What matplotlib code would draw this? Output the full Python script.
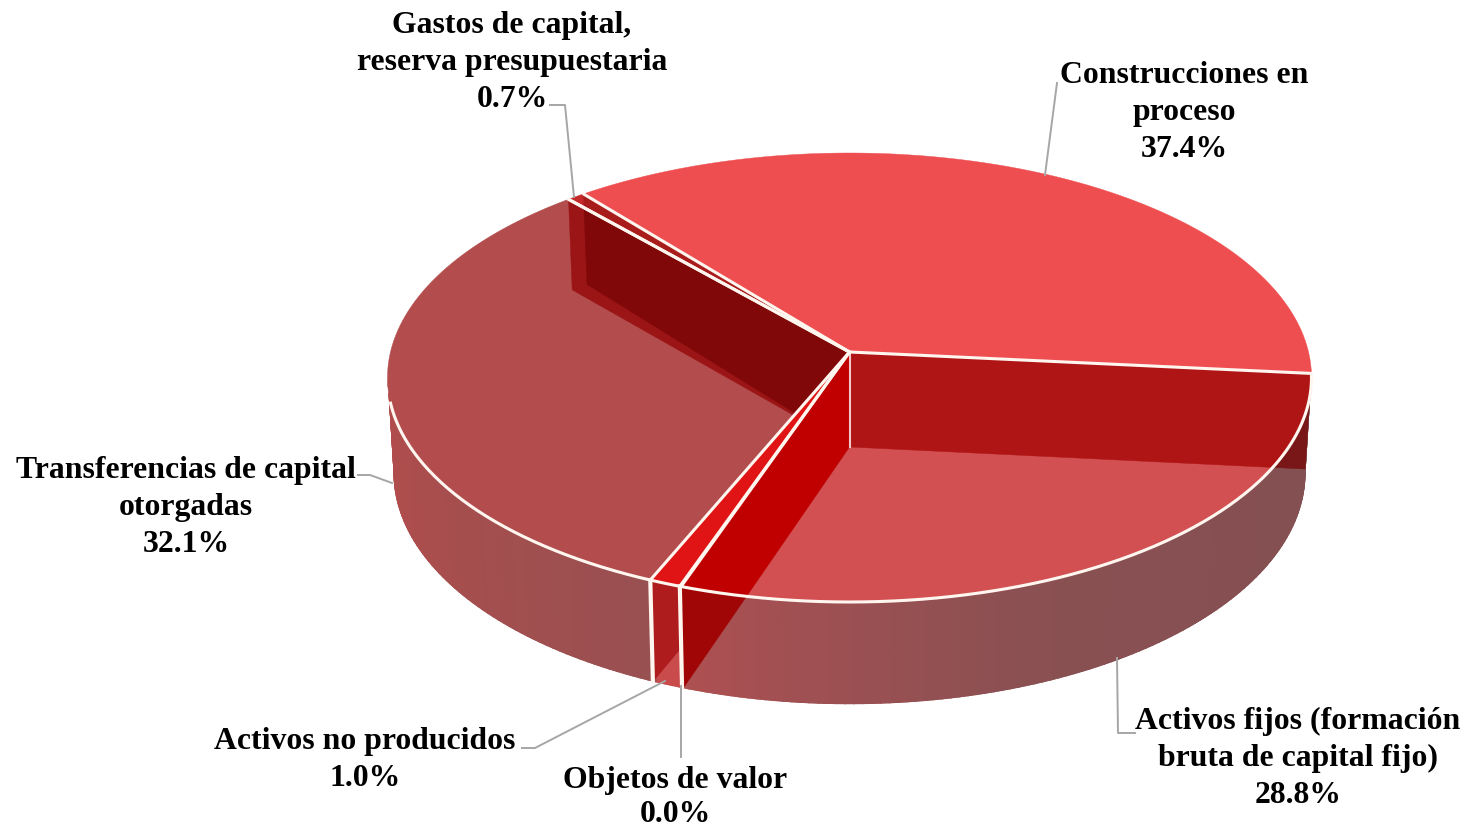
import numpy as np
import matplotlib
matplotlib.use("Agg")
import matplotlib.pyplot as plt
from matplotlib.patches import Polygon
from matplotlib.colors import to_rgb

# ---- data ----
categories = ["Construcciones en\nproceso",
              "Activos fijos (formación\nbruta de capital fijo)",
              "Objetos de valor",
              "Activos no producidos",
              "Transferencias de capital\notorgadas",
              "Gastos de capital,\nreserva presupuestaria"]
values = [37.4, 28.8, 0.04, 1.0, 32.1, 0.7]
top_colors = ["#EF4E50", "#D25052", "#C00000", "#E01414", "#B34D4D", "#C42A2A"]

# ---- projection of the pie ----
START = -39.1
CX, CY_TOP, CY_BOT = 849.5, 352, 447
A_TOP, B_TOP, K_TOP = 459, 221.6, 0.1136
A_BOT, B_BOT, K_BOT = 453, 228, 0.1136


def top_pt(deg):
    t = np.radians(deg)
    u, v = np.sin(t), -np.cos(t)
    s = 1 / (1 - K_TOP * v)
    return np.column_stack([CX + A_TOP * u * s, CY_TOP + B_TOP * v * s])


def bot_pt(deg):
    t = np.radians(deg)
    u, v = np.sin(t), -np.cos(t)
    s = 1 / (1 - K_BOT * v)
    return np.column_stack([CX + A_BOT * u * s, CY_BOT + B_BOT * v * s])


def arc(f, a, b, n=None):
    n = n or max(2, int(abs(b - a) * 2) + 2)
    return f(np.linspace(a, b, n))


c_top = np.array([[CX, CY_TOP]])
c_bot = np.array([[CX, CY_BOT]])

edges = START + np.concatenate([[0], np.cumsum(values)]) / sum(values) * 360
T_RIGHT, T_LEFT = 96.5, 263.5  # visible side band, degrees

fig = plt.figure(figsize=(14.68, 8.30), dpi=100, facecolor="white")
ax = fig.add_axes([0, 0, 1, 1])
ax.set_xlim(0, 1468)
ax.set_ylim(830, 0)
ax.axis("off")


def poly(pts, color, z, clip=None, lw=0.3):
    p = Polygon(pts, closed=True, fc=color, ec=color, lw=lw, zorder=z)
    ax.add_patch(p)
    if clip is not None:
        p.set_clip_path(clip)
    return p


def clip_patch(pts):
    p = Polygon(pts, closed=True, transform=ax.transData, fc="none", ec="none")
    ax.add_patch(p)
    return p


def mix(stops, x):
    xs = [s[0] for s in stops]
    cs = np.array([to_rgb(s[1]) for s in stops])
    return tuple(np.interp(x, xs, cs[:, i]) for i in range(3))


# ---- side band ----
fijos_stops = [(-0.45, "#B55052"), (-0.1, "#A05052"), (0.35, "#8A5052"), (1.0, "#845052")]
transf_stops = [(-1.0, "#B24C4C"), (-0.8, "#A54E4E"), (-0.3, "#965052")]
e = edges
side_outline = np.vstack([arc(top_pt, T_RIGHT, T_LEFT, 300), arc(bot_pt, T_LEFT, T_RIGHT, 300)])
side_clip = clip_patch(side_outline)
STEP = 1.0
for d0 in np.arange(T_RIGHT, T_LEFT, STEP):
    d1 = min(d0 + STEP, T_LEFT)
    mid = (d0 + d1) / 2
    u = np.sin(np.radians(mid))
    if mid < e[2]:
        col = mix(fijos_stops, u)
    elif mid < e[3]:
        col = "#B04F50"
    elif mid < e[4]:
        col = "#C94B4B"
    else:
        col = mix(transf_stops, u)
    pts = np.vstack([arc(top_pt, d0, d1, 3), arc(bot_pt, d1, d0, 3)])
    poly(pts, col, 1, side_clip, lw=1.2)

# ---- top faces ----
wedge_pts = []
for i in range(len(values)):
    pts = np.vstack([c_top, arc(top_pt, edges[i], edges[i + 1])])
    wedge_pts.append(pts)
    if values[i] >= 0.1:
        poly(pts, top_colors[i], 2)


def wall(deg):
    return np.vstack([c_top, top_pt(deg), bot_pt(deg), c_bot])


fijos_clip = clip_patch(wedge_pts[1])
transf_clip = clip_patch(wedge_pts[4])
gastos_clip = clip_patch(wedge_pts[5])

# ---- inner walls seen through the faces ----
poly(wall(edges[1]), "#B01516", 3, fijos_clip)
poly(wall(edges[1]), "#781618", 3, side_clip)
poly(wall(edges[2]), "#C00000", 3, fijos_clip)
poly(wall(edges[2]), "#A00606", 3.1, side_clip)
# wall of the small wedge over its own side only
side_small = np.vstack([arc(top_pt, edges[3], edges[4], 5), arc(bot_pt, edges[4], edges[3], 5)])
small_clip = clip_patch(side_small)
poly(wall(edges[4]), "#AE1C1E", 3.3, small_clip)

poly(wall(edges[5]), "#9C1516", 3, transf_clip)
poly(wall(edges[6]), "#800808", 3.1, transf_clip)
poly(wall(edges[6]), "#A81C1C", 3, gastos_clip)

# ---- white lines ----
WHITE = "#FFF6F0"
for i in range(5):
    p = top_pt(edges[i + 1])[0]
    ax.plot([CX, p[0]], [CY_TOP, p[1]], color=WHITE, lw=2.2, zorder=5, solid_capstyle="round")
for d in (edges[0], edges[5]):
    p = top_pt(d)[0]
    ax.plot([CX, p[0]], [CY_TOP, p[1]], color=WHITE, lw=2.2, zorder=5, solid_capstyle="round")
rim = arc(top_pt, 96, 257, 300)
ax.plot(rim[:, 0], rim[:, 1], color=WHITE, lw=2.2, zorder=5)
for d in (edges[3], edges[4]):
    p, q = top_pt(d)[0], bot_pt(d)[0]
    ax.plot([p[0], q[0]], [p[1], q[1]], color=WHITE, lw=3, zorder=5)
ax.plot([CX, CX], [CY_TOP, CY_BOT], color="#F0C8C8", lw=1.5, zorder=4)

# ---- labels ----
FONT = "Liberation Serif"
labels = [
    (categories[0], values[0], 1184, 75.5, 37.0),
    (categories[1], values[1], 1298, 721.5, 37.0),
    (categories[2], values[2], 675, 780.5, 33.5),
    (categories[3], values[3], 365, 741.5, 37.0),
    (categories[4], values[4], 186, 470.5, 37.0),
    (categories[5], values[5], 512, 25.5, 37.0),
]
for text, val, x, y, line_h in labels:
    lines = text.split("\n") + [f"{val:.1f}%"]
    for j, line in enumerate(lines):
        ax.text(x, y + j * line_h, line, ha="center", va="center", fontsize=22.85,
                fontweight="bold", family=FONT, color="black", zorder=8)

# ---- leader lines ----
leaders = [
    [(1057, 83), (1045, 175)],
    [(1135, 733), (1118, 733), (1117, 658)],
    [(681, 686), (681, 757)],
    [(522, 748), (535, 748), (665, 681)],
    [(358, 475), (370, 475), (392, 483)],
    [(550, 105), (565, 105), (574, 197)],
]
for seg in leaders:
    xs, ys = zip(*seg)
    ax.plot(xs, ys, color="#A6A6A6", lw=1.4, zorder=6)

fig.savefig("out.png", dpi=100, facecolor="white")
